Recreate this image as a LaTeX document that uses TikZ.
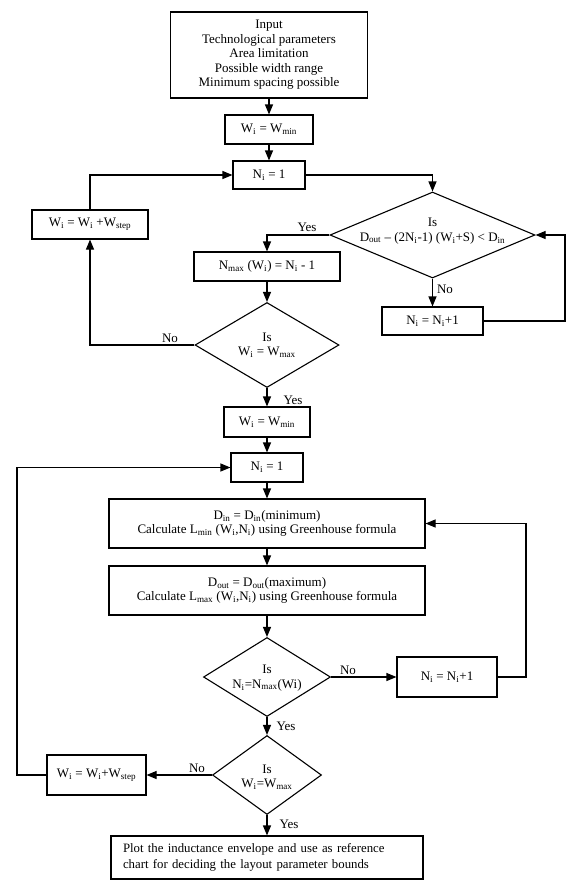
\documentclass[tikz,border=0pt]{standalone}
\usepackage{fontspec}
\setmainfont{Liberation Serif}
\usetikzlibrary{shapes.geometric,arrows.meta}
\newcommand\sbs[1]{\textsubscript{#1}}
\begin{document}
\begin{tikzpicture}[x=1pt,y=-1pt,
  box/.style={draw, line width=1.1pt, rectangle, inner sep=0pt, align=center, font=\fontsize{13}{14.5}\selectfont},
  diam/.style={draw, diamond, line width=1.1pt, inner sep=0pt},
  txt/.style={font=\fontsize{13}{14.5}\selectfont, align=center, inner sep=0pt},
  lab/.style={font=\fontsize{13}{14.5}\selectfont, inner sep=0pt},
  arr/.style={line width=1.1pt, -{Triangle[length=10pt,width=8pt]}},
  ln/.style={line width=1.1pt}]
\useasboundingbox (0,0) rectangle (567,887);

% top part
\node[box, minimum width=197, minimum height=86] (input) at (269,55) {Input\\Technological parameters\\Area limitation\\Possible width range\\Minimum spacing possible};
\node[box, minimum width=88, minimum height=29] (wmin1) at (269,129.5) {W\sbs{i} = W\sbs{min}};
\node[box, minimum width=72, minimum height=28] (ni1) at (269,175) {N\sbs{i} = 1};
\node[diam, minimum width=205, minimum height=86] (d1) at (432.5,235) {};
\node[txt] (d1t) at (432.5,231) {Is\\D\sbs{out} – (2N\sbs{i}-1) (W\sbs{i}+S) < D\sbs{in}};
\node[box, minimum width=101, minimum height=28] (nip1a) at (432.5,321) {N\sbs{i} = N\sbs{i}+1};
\node[box, minimum width=116, minimum height=29] (wstep1) at (90,224.5) {W\sbs{i} = W\sbs{i} +W\sbs{step}};
\node[box, minimum width=146, minimum height=29] (nmax) at (267,266.5) {N\sbs{max} (W\sbs{i}) = N\sbs{i} - 1};
\node[diam, minimum width=144, minimum height=85] (d2) at (267,345) {};
\node[txt] (d2t) at (267,345) {Is\\W\sbs{i} = W\sbs{max}};

% bottom part
\node[box, minimum width=86, minimum height=30] (wmin2) at (267,422) {W\sbs{i} = W\sbs{min}};
\node[box, minimum width=72, minimum height=29] (ni2) at (267,467.5) {N\sbs{i} = 1};
\node[box, minimum width=316, minimum height=49] (din) at (267,523.5) {D\sbs{in} = D\sbs{in}(minimum)\\Calculate L\sbs{min} (W\sbs{i},N\sbs{i}) using Greenhouse formula};
\node[box, minimum width=316, minimum height=49] (dout) at (267,590.5) {D\sbs{out} = D\sbs{out}(maximum)\\Calculate L\sbs{max} (W\sbs{i},N\sbs{i}) using Greenhouse formula};
\node[diam, minimum width=127, minimum height=79] (d3) at (267,677) {};
\node[txt] (d3t) at (267,678) {Is\\N\sbs{i}=N\sbs{max}(Wi)};
\node[box, minimum width=100, minimum height=40] (nip1b) at (447,677) {N\sbs{i} = N\sbs{i}+1};
\node[diam, minimum width=109, minimum height=79] (d4) at (267,775) {};
\node[txt] (d4t) at (267,777) {Is\\W\sbs{i}=W\sbs{max}};
\node[box, minimum width=99, minimum height=40] (wstep2) at (96.5,775) {W\sbs{i} = W\sbs{i}+W\sbs{step}};
\node[box, text width=288pt, align=left, inner xsep=12pt, minimum height=43, font=\fontsize{12.8}{16}\selectfont] (final) at (267,857.5) {Plot the inductance envelope and use as reference\\chart for deciding the layout parameter bounds};

\coordinate (r1) at (565,321);
\coordinate (r2) at (526,677);
\coordinate (l2) at (17,775);

% connectors top
\draw[arr] (input) -- (wmin1);
\draw[arr] (wmin1) -- (ni1);
\draw[arr] (ni1.east) -| (d1.north);
\draw[arr] (d1.west) -| (nmax.north);
\draw[arr] (d1.south) -- (nip1a.north);
\draw[arr] (nip1a.east) -- (r1) |- (d1.east);
\draw[arr] (nmax) -- (d2.north);
\draw[arr] (d2.west) -| (wstep1.south);
\draw[arr] (wstep1.north) |- (ni1.west);
\draw[arr] (d2.south) -- (wmin2.north);

% connectors bottom
\draw[arr] (wmin2) -- (ni2);
\draw[arr] (ni2) -- (din);
\draw[arr] (din) -- (dout);
\draw[arr] (dout) -- (d3.north);
\draw[arr] (d3.east) -- (nip1b.west);
\draw[arr] (nip1b.east) -- (r2) |- (din.east);
\draw[arr] (d3.south) -- (d4.north);
\draw[arr] (d4.west) -- (wstep2.east);
\draw[arr] (wstep2.west) -- (l2) |- (ni2.west);
\draw[arr] (d4.south) -- (final.north);

% labels
\node[lab] (y1) at (307,227) {Yes};
\node[lab] (n1) at (445,289) {No};
\node[lab] (n2) at (170,338) {No};
\node[lab] (y2) at (293,400) {Yes};
\node[lab] (n3) at (348,670) {No};
\node[lab] (y3) at (286,726) {Yes};
\node[lab] (n4) at (197,768) {No};
\node[lab] (y4) at (289,824) {Yes};
\end{tikzpicture}
\end{document}
